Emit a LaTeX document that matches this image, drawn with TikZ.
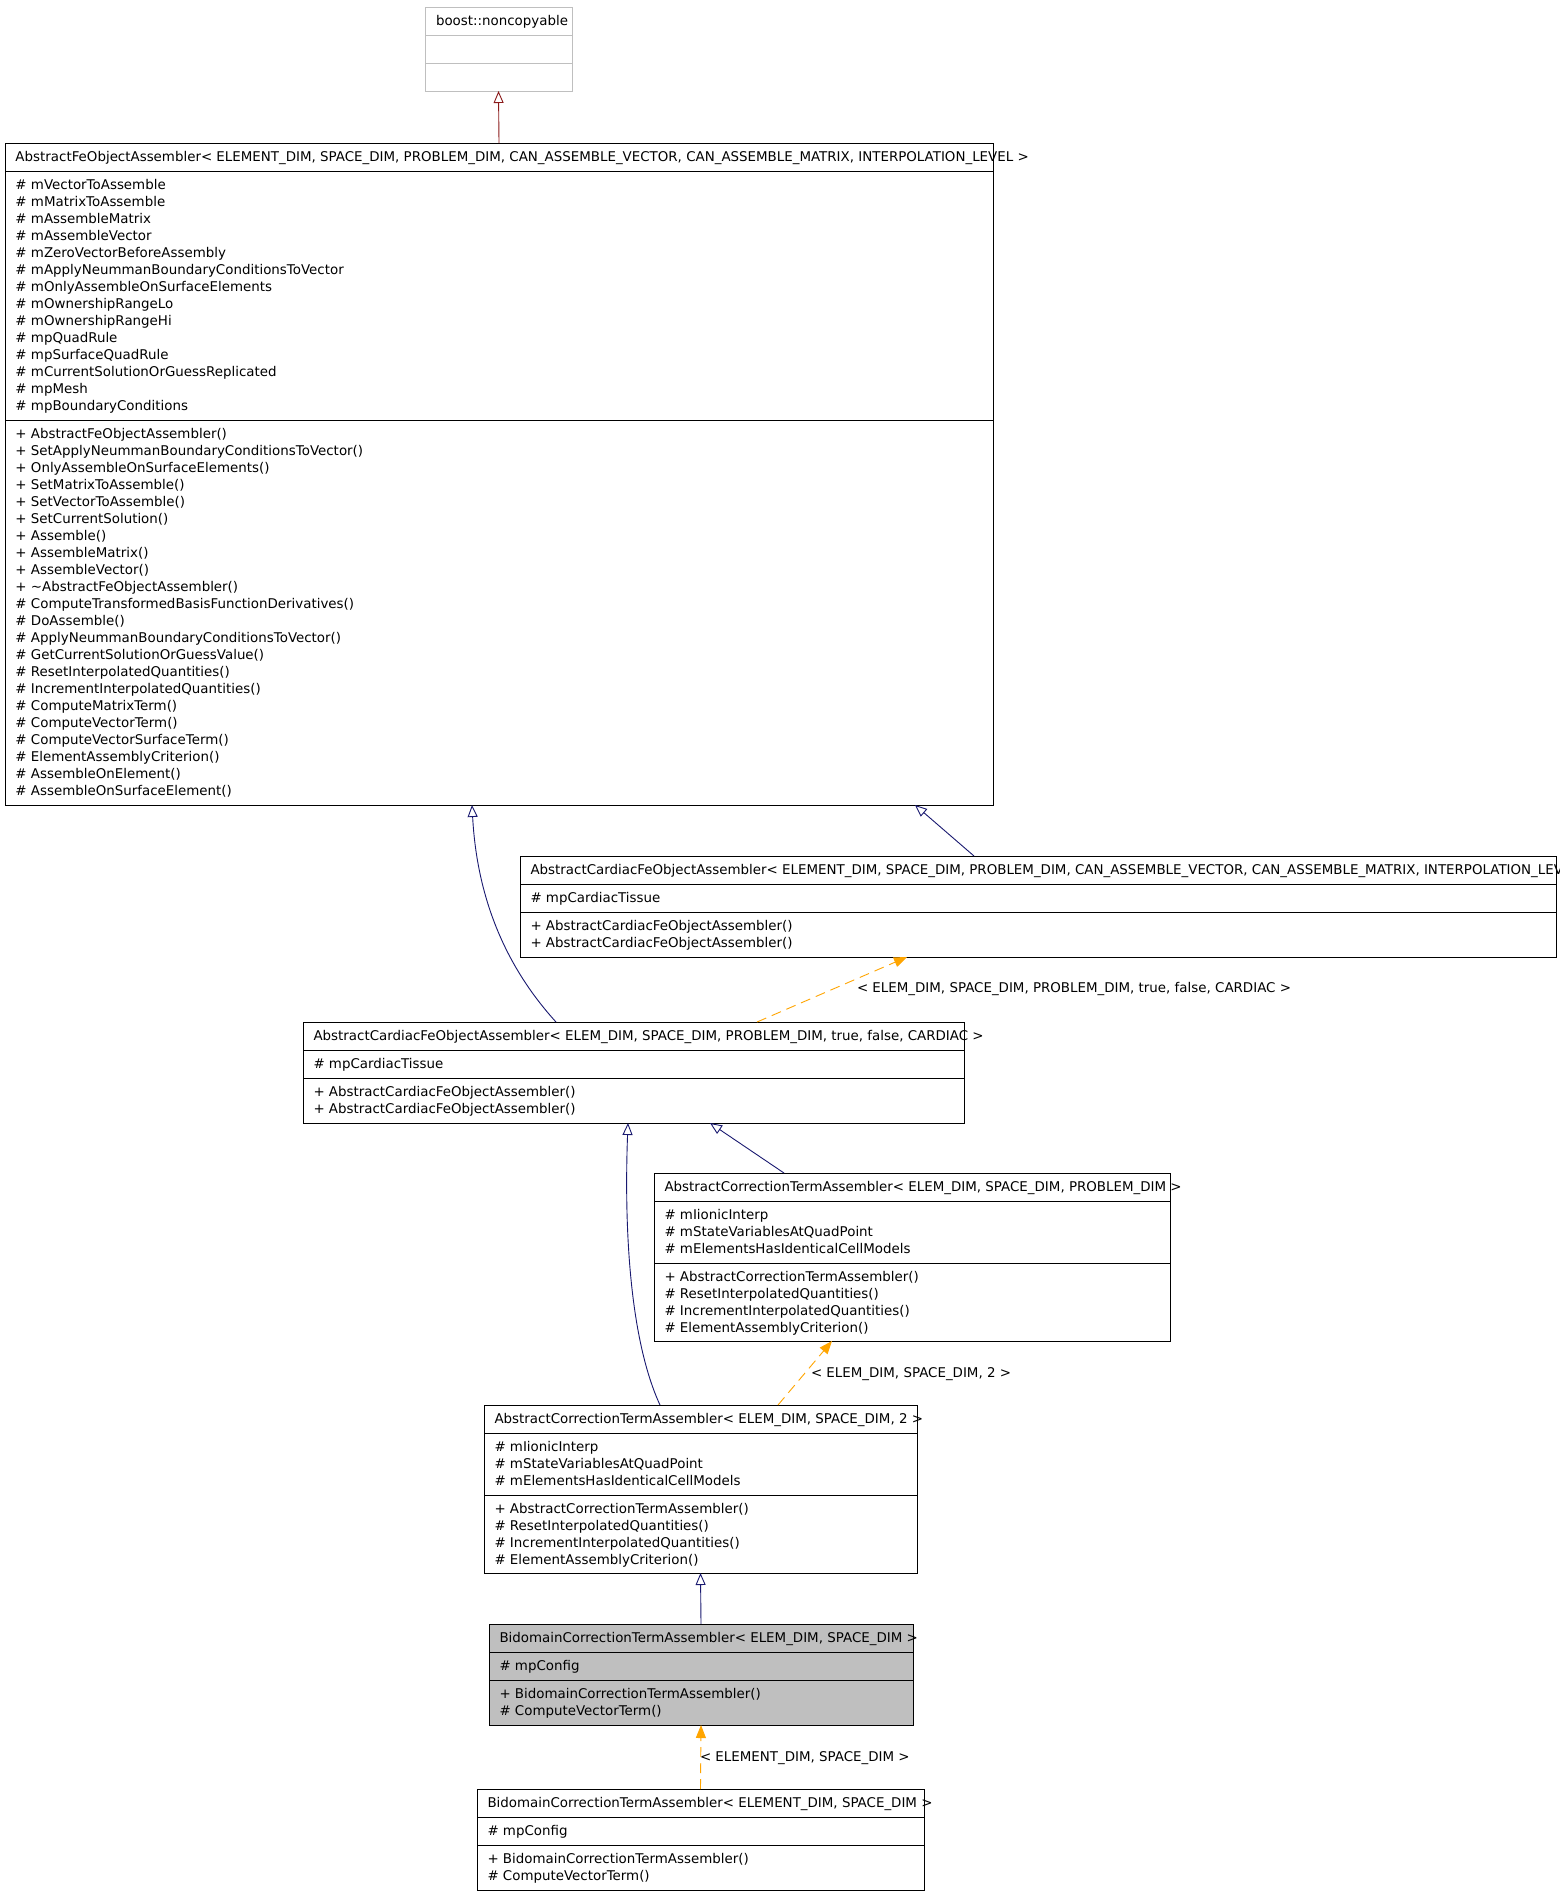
\documentclass[tikz,border=0pt]{standalone}
\usepackage{fontspec}
\setmainfont{DejaVu Sans}
\usetikzlibrary{arrows.meta}
\definecolor{navyline}{HTML}{191970}
\definecolor{privline}{HTML}{8B1A1A}
\definecolor{tmplorange}{HTML}{FFA500}
\definecolor{graybox}{HTML}{BFBFBF}
\tikzset{
  classbox/.style={draw=black, line width=1pt, rectangle, inner sep=0pt, outer sep=0pt, anchor=north west},
  sepline/.style={draw=black, line width=1pt},
  txt/.style={font=\fontsize{13.4}{17}\selectfont, inner sep=0pt, outer sep=0pt, align=left, anchor=base west},
  inh/.style={draw=navyline, line width=0.9pt, -{Triangle[open, length=12pt, width=10pt]}},
  privinh/.style={draw=privline, line width=0.9pt, -{Triangle[open, length=12pt, width=10pt]}},
  tmpl/.style={draw=tmplorange, line width=0.9pt, dash pattern=on 10pt off 6pt, -{Triangle[length=13pt, width=10pt, fill=tmplorange]}},
}
\begin{document}
\begin{tikzpicture}[x=1pt, y=-1pt]
\useasboundingbox (0,0) rectangle (1560,1896);
\fill[white] (0,0) rectangle (1560,1896);

% boost::noncopyable
\node[classbox, draw=graybox, minimum width=147pt, minimum height=84pt] (b1) at (425,7) {};
\draw[graybox, line width=1pt] (425,35) -- (572,35) (425,63) -- (572,63);
\node[txt] (t1) at (436,25.5) {boost::noncopyable};

% AbstractFeObjectAssembler
\node[classbox, minimum width=988pt, minimum height=662pt] (b2) at (5,143) {};
\draw[sepline] (5,171) -- (993,171) (5,420) -- (993,420);
\node[txt] (t2h) at (15.5,161.5) {AbstractFeObjectAssembler< ELEMENT\_DIM, SPACE\_DIM, PROBLEM\_DIM, CAN\_ASSEMBLE\_VECTOR, CAN\_ASSEMBLE\_MATRIX, INTERPOLATION\_LEVEL >};
\node[txt] (t2a) at (15.5,410.5) {\# mVectorToAssemble\\\# mMatrixToAssemble\\\# mAssembleMatrix\\\# mAssembleVector\\\# mZeroVectorBeforeAssembly\\\# mApplyNeummanBoundaryConditionsToVector\\\# mOnlyAssembleOnSurfaceElements\\\# mOwnershipRangeLo\\\# mOwnershipRangeHi\\\# mpQuadRule\\\# mpSurfaceQuadRule\\\# mCurrentSolutionOrGuessReplicated\\\# mpMesh\\\# mpBoundaryConditions};
\node[txt] (t2m) at (15.5,795.5) {+ AbstractFeObjectAssembler()\\+ SetApplyNeummanBoundaryConditionsToVector()\\+ OnlyAssembleOnSurfaceElements()\\+ SetMatrixToAssemble()\\+ SetVectorToAssemble()\\+ SetCurrentSolution()\\+ Assemble()\\+ AssembleMatrix()\\+ AssembleVector()\\+ \textasciitilde AbstractFeObjectAssembler()\\\# ComputeTransformedBasisFunctionDerivatives()\\\# DoAssemble()\\\# ApplyNeummanBoundaryConditionsToVector()\\\# GetCurrentSolutionOrGuessValue()\\\# ResetInterpolatedQuantities()\\\# IncrementInterpolatedQuantities()\\\# ComputeMatrixTerm()\\\# ComputeVectorTerm()\\\# ComputeVectorSurfaceTerm()\\\# ElementAssemblyCriterion()\\\# AssembleOnElement()\\\# AssembleOnSurfaceElement()};

% AbstractCardiacFeObjectAssembler (generic)
\node[classbox, minimum width=1036pt, minimum height=101pt] (b3) at (520,856) {};
\draw[sepline] (520,884) -- (1556,884) (520,912) -- (1556,912);
\node[txt] (t3h) at (530.5,874.5) {AbstractCardiacFeObjectAssembler< ELEMENT\_DIM, SPACE\_DIM, PROBLEM\_DIM, CAN\_ASSEMBLE\_VECTOR, CAN\_ASSEMBLE\_MATRIX, INTERPOLATION\_LEVEL >};
\node[txt] (t3a) at (530.5,902.5) {\# mpCardiacTissue};
\node[txt] (t3m) at (530.5,947.5) {+ AbstractCardiacFeObjectAssembler()\\+ AbstractCardiacFeObjectAssembler()};

% AbstractCardiacFeObjectAssembler (CARDIAC)
\node[classbox, minimum width=661pt, minimum height=101pt] (b4) at (303,1022) {};
\draw[sepline] (303,1050) -- (964,1050) (303,1078) -- (964,1078);
\node[txt] (t4h) at (313.5,1040.5) {AbstractCardiacFeObjectAssembler< ELEM\_DIM, SPACE\_DIM, PROBLEM\_DIM, true, false, CARDIAC >};
\node[txt] (t4a) at (313.5,1068.5) {\# mpCardiacTissue};
\node[txt] (t4m) at (313.5,1113.5) {+ AbstractCardiacFeObjectAssembler()\\+ AbstractCardiacFeObjectAssembler()};

% AbstractCorrectionTermAssembler (PROBLEM_DIM)
\node[classbox, minimum width=516pt, minimum height=168pt] (b5) at (654,1173) {};
\draw[sepline] (654,1201) -- (1170,1201) (654,1263) -- (1170,1263);
\node[txt] (t5h) at (664.5,1191.5) {AbstractCorrectionTermAssembler< ELEM\_DIM, SPACE\_DIM, PROBLEM\_DIM >};
\node[txt] (t5a) at (664.5,1253.5) {\# mIionicInterp\\\# mStateVariablesAtQuadPoint\\\# mElementsHasIdenticalCellModels};
\node[txt] (t5m) at (664.5,1332.5) {+ AbstractCorrectionTermAssembler()\\\# ResetInterpolatedQuantities()\\\# IncrementInterpolatedQuantities()\\\# ElementAssemblyCriterion()};

% AbstractCorrectionTermAssembler (2)
\node[classbox, minimum width=433pt, minimum height=168pt] (b6) at (484,1405) {};
\draw[sepline] (484,1433) -- (917,1433) (484,1495) -- (917,1495);
\node[txt] (t6h) at (494.5,1423.5) {AbstractCorrectionTermAssembler< ELEM\_DIM, SPACE\_DIM, 2 >};
\node[txt] (t6a) at (494.5,1485.5) {\# mIionicInterp\\\# mStateVariablesAtQuadPoint\\\# mElementsHasIdenticalCellModels};
\node[txt] (t6m) at (494.5,1564.5) {+ AbstractCorrectionTermAssembler()\\\# ResetInterpolatedQuantities()\\\# IncrementInterpolatedQuantities()\\\# ElementAssemblyCriterion()};

% BidomainCorrectionTermAssembler (highlighted)
\node[classbox, fill=graybox, minimum width=424pt, minimum height=101pt] (b7) at (489,1624) {};
\draw[sepline] (489,1652) -- (913,1652) (489,1680) -- (913,1680);
\node[txt] (t7h) at (499.5,1642.5) {BidomainCorrectionTermAssembler< ELEM\_DIM, SPACE\_DIM >};
\node[txt] (t7a) at (499.5,1670.5) {\# mpConfig};
\node[txt] (t7m) at (499.5,1715.5) {+ BidomainCorrectionTermAssembler()\\\# ComputeVectorTerm()};

% BidomainCorrectionTermAssembler (generic)
\node[classbox, minimum width=447pt, minimum height=101pt] (b8) at (477,1789) {};
\draw[sepline] (477,1817) -- (924,1817) (477,1845) -- (924,1845);
\node[txt] (t8h) at (487.5,1807.5) {BidomainCorrectionTermAssembler< ELEMENT\_DIM, SPACE\_DIM >};
\node[txt] (t8a) at (487.5,1835.5) {\# mpConfig};
\node[txt] (t8m) at (487.5,1880.5) {+ BidomainCorrectionTermAssembler()\\\# ComputeVectorTerm()};

% connectors
\draw[privinh] (b2.north) -- (b1.south);
\draw[inh] ([xshift=454pt]b3.north west) -- ([xshift=910pt]b2.south west);
\draw[inh] ([xshift=253pt]b4.north west) .. controls (495,955) and (476,880) .. ([xshift=467pt]b2.south west);
\draw[inh] ([xshift=130pt]b5.north west) -- ([xshift=407pt]b4.south west);
\draw[inh] ([xshift=176pt]b6.north west) .. controls (630,1340) and (624,1230) .. ([xshift=325pt]b4.south west);
\draw[tmpl] ([xshift=294pt]b6.north west) -- ([xshift=178pt]b5.south west);
\draw[tmpl] ([xshift=454pt]b4.north west) -- ([xshift=387pt]b3.south west);
\draw[inh] (b7.north) -- (b6.south);
\draw[tmpl] (b8.north) -- (b7.south);

% template labels
\node[txt] (l1) at (857,992.5) {< ELEM\_DIM, SPACE\_DIM, PROBLEM\_DIM, true, false, CARDIAC >};
\node[txt] (l2) at (811,1377.5) {< ELEM\_DIM, SPACE\_DIM, 2 >};
\node[txt] (l3) at (700,1761.5) {< ELEMENT\_DIM, SPACE\_DIM >};
\end{tikzpicture}
\end{document}
